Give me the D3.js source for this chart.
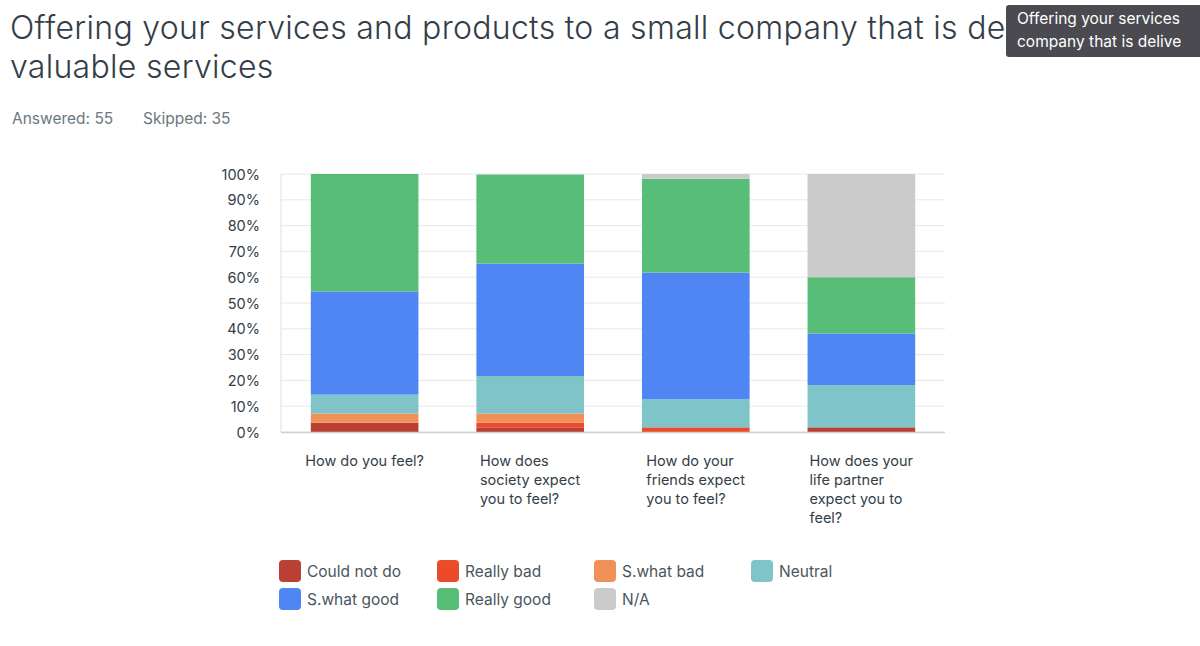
<!DOCTYPE html>
<html lang="en">
<head>
<meta charset="UTF-8">
<title>Offering your services</title>
<script src="https://d3js.org/d3.v7.min.js"></script>
<style>
  body { margin: 0; padding: 0; background: #fff; overflow: hidden; }
  svg { display: block; font-family: Inter, 'Open Sans', sans-serif; }
  .title { font-size: 32px; font-weight: 300; fill: #333e48; letter-spacing: 0.3px; }
  .meta { font-size: 15.5px; fill: #6b787f; }
  .tick text { font-size: 14.5px; fill: #333e48; font-family: Inter, sans-serif; }
  .cat { font-size: 14.5px; fill: #333e48; }
  .legend-text { font-size: 15.5px; fill: #4a555d; }
  .tip-text { font-size: 15.5px; fill: #fff; }
</style>
</head>
<body>
<svg width="1200" height="646"></svg>
<script>
const categories = [
  ["How do you feel?"],
  ["How does", "society expect", "you to feel?"],
  ["How do your", "friends expect", "you to feel?"],
  ["How does your", "life partner", "expect you to", "feel?"]
];
const answers = ["Could not do", "Really bad", "S.what bad", "Neutral", "S.what good", "Really good", "N/A"];
const colors = ["#b94033", "#ec4b2b", "#f0915a", "#7fc4c8", "#4f86f4", "#58bd77", "#cbcbcb"];
// percent per answer, one row per question
const couldNotDo = [3.6, 1.8, 0, 1.8];
const reallyBad  = [0, 1.8, 1.8, 0];
const swhatBad   = [3.6, 3.6, 0, 0];
const neutral    = [7.3, 14.5, 10.9, 16.4];
const swhatGood  = [40.0, 43.6, 49.1, 20.0];
const reallyGood = [45.5, 34.5, 36.4, 21.8];
const na         = [0, 0, 1.8, 40.0];
const yTicks = [0, 10, 20, 30, 40, 50, 60, 70, 80, 90, 100];

const rows = categories.map((c, i) => ({
  idx: i,
  "Could not do": couldNotDo[i], "Really bad": reallyBad[i], "S.what bad": swhatBad[i],
  "Neutral": neutral[i], "S.what good": swhatGood[i], "Really good": reallyGood[i], "N/A": na[i]
}));

const svg = d3.select("svg");
const plotLeft = 281, plotRight = 945, plotTop = 174, plotBottom = 432;

// title is hidden behind the tooltip on the right
svg.append("clipPath").attr("id", "titleClip")
  .append("rect").attr("x", 0).attr("y", 0).attr("width", 1006).attr("height", 60);
svg.append("text").attr("class", "title").attr("x", 10).attr("y", 39)
  .attr("clip-path", "url(#titleClip)")
  .text("Offering your services and products to a small company that is de");
svg.append("text").attr("class", "title").attr("x", 10).attr("y", 78).text("valuable services");
svg.append("text").attr("class", "meta").attr("x", 12).attr("y", 124).text("Answered: 55");
svg.append("text").attr("class", "meta").attr("x", 143).attr("y", 124).text("Skipped: 35");

const x = d3.scaleBand().domain(d3.range(categories.length)).range([plotLeft, plotRight])
  .paddingInner(0.35).paddingOuter(0.18);
const y = d3.scaleLinear().domain([0, 100]).range([plotBottom, plotTop]);

// gridlines
svg.append("g").selectAll("line").data(yTicks).enter().append("line")
  .attr("x1", plotLeft).attr("x2", plotRight)
  .attr("y1", d => y(d)).attr("y2", d => y(d))
  .attr("stroke", "#e8e8e8").attr("stroke-width", 1);
svg.append("line").attr("x1", plotLeft).attr("x2", plotLeft).attr("y1", plotTop).attr("y2", plotBottom)
  .attr("stroke", "#e0e0e0");

const yAxis = svg.append("g").attr("transform", `translate(${plotLeft - 18},0)`)
  .call(d3.axisLeft(y).tickValues(yTicks).tickFormat(d => d + "%").tickSize(0));
yAxis.select(".domain").remove();
yAxis.selectAll("text").attr("dx", 0).attr("dy", "0.35em");

// stacked bars
const series = d3.stack().keys(answers)(rows);
svg.append("g").selectAll("g").data(series).enter().append("g")
  .attr("fill", (d, i) => colors[i])
  .selectAll("rect").data(d => d).enter().append("rect")
  .attr("x", d => x(d.data.idx))
  .attr("width", x.bandwidth())
  .attr("y", d => y(d[1]))
  .attr("height", d => y(d[0]) - y(d[1]));

svg.append("line").attr("x1", plotLeft).attr("x2", plotRight)
  .attr("y1", plotBottom + 0.5).attr("y2", plotBottom + 0.5)
  .attr("stroke", "#cfcfcf").attr("stroke-width", 1.5);

// category labels: left-aligned lines, block centred under the bar
const cat = svg.append("g").selectAll("text").data(categories).enter().append("text")
  .attr("class", "cat")
  .attr("y", 466);
cat.selectAll("tspan").data(d => d).enter().append("tspan")
  .attr("dy", (d, i) => i === 0 ? 0 : 19)
  .text(d => d);
cat.each(function(d, i) {
  const w = d3.max(d3.select(this).selectAll("tspan").nodes(), n => n.getComputedTextLength());
  const lx = x(i) + x.bandwidth() / 2 - w / 2;
  d3.select(this).selectAll("tspan").attr("x", lx);
});

// legend
const legendCols = [279, 437, 594, 751];
const lg = svg.append("g").selectAll("g").data(answers).enter().append("g")
  .attr("transform", (d, i) => `translate(${legendCols[i % 4]},${560 + Math.floor(i / 4) * 28})`);
lg.append("rect").attr("width", 22).attr("height", 22).attr("rx", 4)
  .attr("fill", (d, i) => colors[i]);
lg.append("text").attr("class", "legend-text").attr("x", 28).attr("y", 17).text(d => d);

// tooltip, running off the right edge of the window
svg.append("rect").attr("x", 1006).attr("y", 5).attr("width", 210).attr("height", 52)
  .attr("rx", 3).attr("fill", "#4a4a50");
svg.append("text").attr("class", "tip-text").attr("x", 1017).attr("y", 24)
  .text("Offering your services");
svg.append("text").attr("class", "tip-text").attr("x", 1017).attr("y", 47)
  .text("company that is delive");
</script>
</body>
</html>
